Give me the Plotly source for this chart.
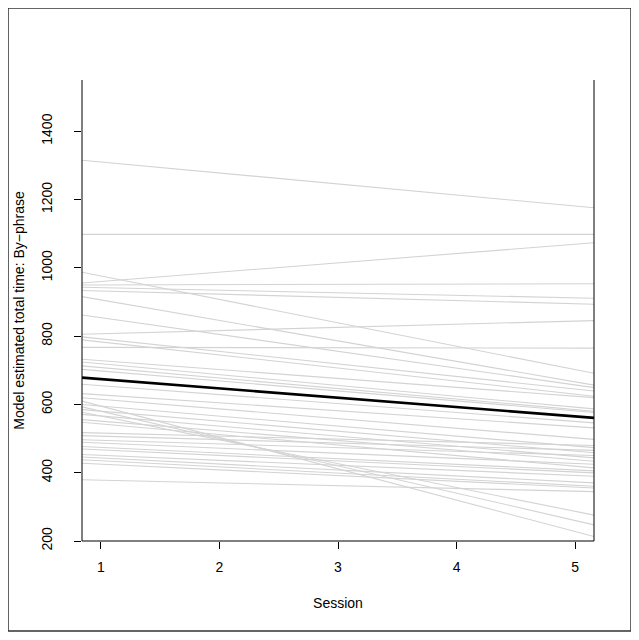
import plotly.graph_objects as go

# model estimated total time per subject at session 1 and session 5
subj_s1 = [1310, 1098, 960, 950, 942, 932, 807, 767, 976, 906, 854, 792, 783,
           728, 719, 708, 698, 655, 628, 615, 595, 580, 566, 595, 580, 566,
           551, 543, 516, 507, 495, 487, 474, 467, 451, 443, 435, 425, 378]
subj_s5 = [1181, 1098, 1069, 953, 912, 895, 844, 765, 702, 666, 657, 645, 630,
           624, 592, 585, 581, 550, 535, 502, 228, 260, 287, 478, 463, 448,
           438, 419, 481, 467, 452, 427, 408, 402, 392, 373, 363, 358, 346]
# population estimate
mean_s1 = 674
mean_s5 = 565

x_lo, x_hi = 0.84, 5.16
y_lo, y_hi = 200, 1550


def ends(a, b):
    slope = (b - a) / 4.0
    return [a + slope * (x_lo - 1), a + slope * (x_hi - 1)]


fig = go.Figure()
for a, b in zip(subj_s1, subj_s5):
    fig.add_trace(go.Scatter(x=[x_lo, x_hi], y=ends(a, b), mode="lines",
                             line=dict(color="#d3d3d3", width=1.1),
                             hoverinfo="skip", showlegend=False))
fig.add_trace(go.Scatter(x=[x_lo, x_hi], y=ends(mean_s1, mean_s5), mode="lines",
                         line=dict(color="black", width=2.6),
                         hoverinfo="skip", showlegend=False))

font = dict(family="Liberation Sans, Arial, sans-serif", size=14, color="black")

# page body adds an 8px margin, so the figure is 8px smaller than the window
fig.update_layout(
    width=631, height=632,
    margin=dict(l=74, r=45, t=72, b=99),
    plot_bgcolor="white", paper_bgcolor="white",
    font=font,
    xaxis=dict(range=[x_lo, x_hi], tickvals=[1, 2, 3, 4, 5], ticks="outside",
               ticklen=7, tickcolor="black", showgrid=False, zeroline=False,
               showline=False, ticklabelstandoff=6, automargin=False,
               title=dict(text="Session", standoff=24, font=font)),
    yaxis=dict(range=[y_lo, y_hi], tickvals=[200, 400, 600, 800, 1000, 1200, 1400],
               ticks="outside", ticklen=7, tickcolor="black", tickangle=-90,
               showgrid=False, zeroline=False, showline=False,
               ticklabelstandoff=16, automargin=False,
               title=dict(text="Model estimated total time: By\u2212phrase",
                          standoff=11, font=font)),
    shapes=[
        # open-top box around the plot region
        dict(type="line", xref="paper", yref="paper", x0=0, x1=0, y0=0, y1=1,
             line=dict(color="black", width=1)),
        dict(type="line", xref="paper", yref="paper", x0=0, x1=1, y0=0, y1=0,
             line=dict(color="black", width=1)),
        dict(type="line", xref="paper", yref="paper", x0=1, x1=1, y0=0, y1=1,
             line=dict(color="black", width=1)),
        # outer frame
        dict(type="rect", xref="paper", yref="paper",
             x0=-0.1445, x1=1.0723, y0=-0.1952, y1=1.1562,
             line=dict(color="#333333", width=1.5)),
    ],
)

fig.write_html("out.html")
